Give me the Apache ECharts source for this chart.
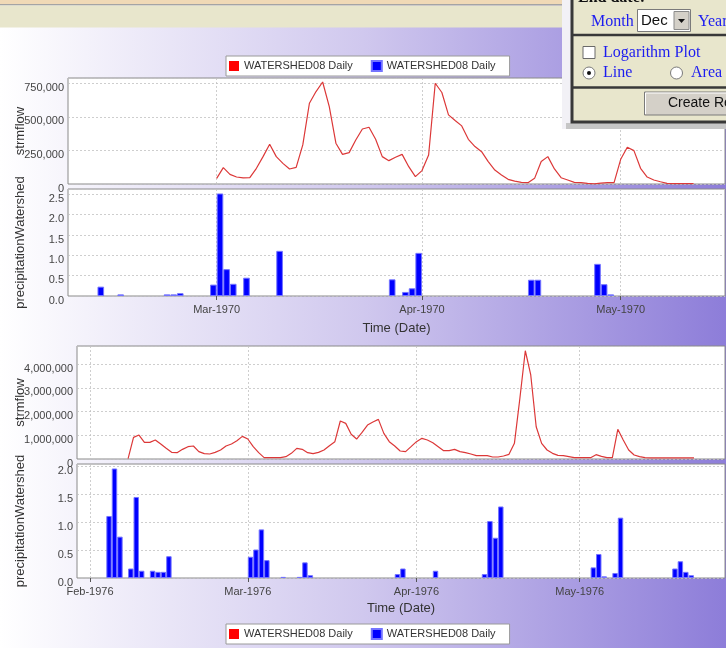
<!DOCTYPE html>
<html>
<head>
<meta charset="utf-8">
<script src="https://cdn.jsdelivr.net/npm/echarts@6/dist/echarts.min.js"></script>
<style>
  html, body { margin: 0; padding: 0; background: #fff; }
  #chart { width: 726px; height: 648px; }
</style>
</head>
<body>
<div id="chart"></div>
<script>
const DAY = 86400000;
const MONTHS = ['Jan', 'Feb', 'Mar', 'Apr', 'May', 'Jun', 'Jul', 'Aug', 'Sep', 'Oct', 'Nov', 'Dec'];

// Station label shown in both legends
const stationLabel = 'WATERSHED08 Daily';

// ---- Spring 1970 ----
// daily streamflow, starting 1 Mar 1970
const flow1970Start = '1970-03-01';
const flow1970 = [
  42000, 122000, 72000, 52000, 45000, 47000, 117000, 204000, 296000, 204000,
  154000, 112000, 124000, 291000, 602000, 689000, 760000, 577000, 304000, 221000,
  234000, 328000, 410000, 423000, 333000, 204000, 174000, 199000, 221000, 129000,
  55000, 100000, 216000, 751000, 682000, 515000, 473000, 433000, 333000, 279000,
  241000, 167000, 104000, 67000, 35000, 22000, 12000, 10000, 42000, 167000,
  204000, 112000, 47000, 30000, 12000, 10000, 5000, 1000, 7000, 10000,
  10000, 184000, 274000, 249000, 117000, 52000, 30000, 17000, 5000, 2500,
  2500, 2500, 2500
];
// wet days and their precipitation
const rain1970Dates = [
  '1970-02-11', '1970-02-14', '1970-02-21', '1970-02-22', '1970-02-23', '1970-02-28',
  '1970-03-01', '1970-03-02', '1970-03-03', '1970-03-05', '1970-03-10',
  '1970-03-27', '1970-03-29', '1970-03-30', '1970-03-31',
  '1970-04-17', '1970-04-18', '1970-04-27', '1970-04-28', '1970-04-29'
];
const rain1970 = [
  0.23, 0.04, 0.04, 0.04, 0.07, 0.28,
  2.52, 0.66, 0.30, 0.45, 1.11,
  0.41, 0.10, 0.19, 1.06,
  0.40, 0.40, 0.79, 0.29, 0.04
];
const ticks1970 = ['1970-03-01', '1970-04-01', '1970-05-01'];

// ---- Spring 1976 ----
const flow1976Start = '1976-02-08';
const flow1976 = [
  20000, 912000, 1010000, 702000, 702000, 800000, 632000, 449000, 281000, 267000,
  407000, 519000, 547000, 309000, 225000, 211000, 281000, 379000, 547000, 632000,
  772000, 954000, 842000, 519000, 267000, 56000, 56000, 56000, 56000, 98000,
  239000, 449000, 407000, 267000, 225000, 281000, 379000, 561000, 730000, 1600000,
  1500000, 1040000, 842000, 1120000, 1430000, 1560000, 1670000, 1080000, 730000, 547000,
  337000, 309000, 519000, 730000, 870000, 800000, 688000, 519000, 351000, 351000,
  407000, 309000, 267000, 211000, 140000, 140000, 140000, 84000, 84000, 126000,
  196000, 660000, 2550000, 4560000, 3540000, 1360000, 660000, 379000, 239000, 154000,
  140000, 98000, 56000, 56000, 56000, 56000, 182000, 112000, 56000, 56000,
  1250000, 800000, 379000, 168000, 98000, 56000, 50000, 50000, 45000, 45000,
  45000, 45000, 45000, 45000, 45000
];
const rain1976Dates = [
  '1976-02-04', '1976-02-05', '1976-02-06', '1976-02-08', '1976-02-09', '1976-02-10',
  '1976-02-12', '1976-02-13', '1976-02-14', '1976-02-15',
  '1976-03-01', '1976-03-02', '1976-03-03', '1976-03-04', '1976-03-07',
  '1976-03-10', '1976-03-11', '1976-03-12', '1976-03-28', '1976-03-29',
  '1976-04-04', '1976-04-13', '1976-04-14', '1976-04-15', '1976-04-16',
  '1976-05-03', '1976-05-04', '1976-05-05', '1976-05-07', '1976-05-08',
  '1976-05-18', '1976-05-19', '1976-05-20', '1976-05-21'
];
const rain1976 = [
  1.11, 1.96, 0.74, 0.17, 1.45, 0.13,
  0.13, 0.11, 0.11, 0.39,
  0.38, 0.51, 0.87, 0.32, 0.02,
  0.02, 0.28, 0.05, 0.07, 0.17,
  0.13, 0.07, 1.02, 0.72, 1.28,
  0.19, 0.43, 0.03, 0.09, 1.08,
  0.17, 0.30, 0.11, 0.05
];
const ticks1976 = ['1976-02-01', '1976-03-01', '1976-04-01', '1976-05-01'];

// ---- helpers ----
function parseDay(s, offset) {
  const p = s.split('-').map(Number);
  return new Date(p[0], p[1] - 1, p[2] + (offset || 0)).getTime();
}
function dailySeries(start, values) {
  return values.map((v, i) => [parseDay(start, i), v]);
}
function barSeries(dates, values) {
  // each bar covers its whole day
  return dates.map((d, i) => [parseDay(d) + DAY / 2, values[i]]);
}
function monthLabel(v) {
  const d = new Date(v);
  return MONTHS[d.getMonth()] + '-' + d.getFullYear();
}

const FONT = '"Liberation Sans", Arial, sans-serif';
const SERIF = '"Liberation Serif", "Times New Roman", serif';

// visible date ranges of the two charts
const range1970 = [parseDay('1970-03-01') - 22.45 * DAY, parseDay('1970-03-01') + 76.75 * DAY];
const range1976 = [parseDay('1976-02-01') - 2.39 * DAY, parseDay('1976-02-01') + 116.7 * DAY];

const grids = [
  { left: 68, top: 78, width: 657, height: 106 },
  { left: 68, top: 189, width: 657, height: 107 },
  { left: 77, top: 346, width: 648, height: 113 },
  { left: 77, top: 464, width: 648, height: 114 }
];

const gridLine = { color: '#c2c2c2', type: [2, 2], width: 0.8 };

// date axis: values are timestamps, ticks on the first of each month
function dateAxis(gridIndex, range, ticks, bottom, nameGap) {
  const tickValues = ticks.map(t => parseDay(t));
  return {
    type: 'value', gridIndex, min: range[0], max: range[1], scale: true,
    axisLine: { show: false },
    axisTick: { show: true, customValues: tickValues, length: bottom ? 4 : 0, lineStyle: { color: '#555' } },
    axisLabel: {
      show: bottom, customValues: tickValues, formatter: monthLabel, margin: 8,
      color: '#444', fontSize: 11, fontFamily: FONT
    },
    splitLine: { show: true, lineStyle: gridLine },
    name: bottom ? 'Time (Date)' : '',
    nameLocation: 'middle', nameGap,
    nameTextStyle: { fontSize: 13, color: '#333', fontFamily: FONT }
  };
}

// value labels sit a little below their grid lines
function valueAxis(gridIndex, max, interval, name, nameGap, fmt) {
  return {
    type: 'value', gridIndex, min: 0, max, interval,
    axisLine: { show: false },
    axisTick: { show: false },
    axisLabel: {
      formatter: fmt, showMaxLabel: false, color: '#444', fontSize: 11,
      fontFamily: FONT, margin: 4, verticalAlign: 'top', lineHeight: 9
    },
    splitLine: { show: true, lineStyle: gridLine },
    name, nameLocation: 'middle', nameGap, nameRotate: 90, nameMoveOverlap: false,
    nameTextStyle: { fontSize: 13, color: '#333', fontFamily: FONT }
  };
}

const flowFmt = v => Math.round(v).toLocaleString('en-US');
const rainFmt = v => v.toFixed(1);

function barWidthFor(grid, range) {
  return grid.width * DAY / (range[1] - range[0]);
}

const lineStyle = { color: '#dc3838', width: 1.2 };
const barStyle = { color: '#0000ff', borderColor: '#7474ff', borderWidth: 1 };

function legendFor(top, flowName, rainName) {
  return {
    left: 226, top, orient: 'horizontal',
    data: [
      { name: flowName, itemStyle: { color: '#ff0000' } },
      { name: rainName, itemStyle: { color: '#0000ff' } }
    ],
    formatter: () => stationLabel,
    icon: 'rect', itemWidth: 10, itemHeight: 10, itemGap: 18,
    padding: [4, 14, 4, 3],
    backgroundColor: '#ffffff', borderColor: '#9a9a9a', borderWidth: 1,
    selectedMode: false,
    textStyle: { fontSize: 11, color: '#333', fontFamily: FONT }
  };
}

// page chrome: header strip and the settings panel
const BLUE = '#1c1cf0';
const chrome = [
  { type: 'rect', z: 50, shape: { x: 0, y: 0, width: 562, height: 4 }, style: { fill: '#f0d9b6' } },
  { type: 'rect', z: 50, shape: { x: 0, y: 4, width: 562, height: 1.6 }, style: { fill: '#a4a4a4' } },
  { type: 'rect', z: 50, shape: { x: 0, y: 5.6, width: 562, height: 22 }, style: { fill: '#e8e6cc' } },
  { type: 'rect', z: 50, shape: { x: 562, y: 0, width: 10, height: 129 }, style: { fill: '#f2f1f6' } },
  { type: 'rect', z: 50, shape: { x: 566, y: 123, width: 170, height: 6 }, style: { fill: '#c6c6c6' } },
  { type: 'rect', z: 51, shape: { x: 572, y: -4, width: 170, height: 126 }, style: { fill: '#e8e6cc', stroke: '#383838', lineWidth: 3 } },
  { type: 'line', z: 52, shape: { x1: 572, y1: 35, x2: 730, y2: 35 }, style: { stroke: '#383838', lineWidth: 2.5 } },
  { type: 'line', z: 52, shape: { x1: 572, y1: 87.5, x2: 730, y2: 87.5 }, style: { stroke: '#383838', lineWidth: 2.5 } },
  { type: 'text', z: 53, style: { text: 'End date:', x: 578, y: -2, font: 'bold 16px ' + SERIF, fill: '#111', textVerticalAlign: 'middle', verticalAlign: 'middle' } },
  { type: 'text', z: 53, style: { text: 'Month', x: 591, y: 21.5, font: '16px ' + SERIF, fill: BLUE, textVerticalAlign: 'middle', verticalAlign: 'middle' } },
  { type: 'rect', z: 53, shape: { x: 637.5, y: 9.5, width: 53, height: 22 }, style: { fill: '#ffffff', stroke: '#7a7a7a', lineWidth: 1 } },
  { type: 'text', z: 54, style: { text: 'Dec', x: 641, y: 21, font: '15px ' + FONT, fill: '#111', textVerticalAlign: 'middle', verticalAlign: 'middle' } },
  { type: 'rect', z: 54, shape: { x: 674, y: 11.5, width: 15, height: 18 }, style: { fill: '#d4d0c8', stroke: '#8a8a8a', lineWidth: 1 } },
  { type: 'polygon', z: 55, shape: { points: [[678, 19], [685, 19], [681.5, 23]] }, style: { fill: '#111' } },
  { type: 'text', z: 53, style: { text: 'Year', x: 698, y: 21.5, font: '16px ' + SERIF, fill: BLUE, textVerticalAlign: 'middle', verticalAlign: 'middle' } },
  { type: 'rect', z: 53, shape: { x: 583, y: 46.5, width: 12, height: 12 }, style: { fill: '#ffffff', stroke: '#6a6a6a', lineWidth: 1 } },
  { type: 'text', z: 53, style: { text: 'Logarithm Plot', x: 603, y: 52.5, font: '16px ' + SERIF, fill: BLUE, textVerticalAlign: 'middle', verticalAlign: 'middle' } },
  { type: 'circle', z: 53, shape: { cx: 589, cy: 73, r: 6 }, style: { fill: '#ffffff', stroke: '#7a7a7a', lineWidth: 1 } },
  { type: 'circle', z: 54, shape: { cx: 589, cy: 73, r: 2 }, style: { fill: '#111' } },
  { type: 'text', z: 53, style: { text: 'Line', x: 603, y: 73, font: '16px ' + SERIF, fill: BLUE, textVerticalAlign: 'middle', verticalAlign: 'middle' } },
  { type: 'circle', z: 53, shape: { cx: 676.5, cy: 73, r: 6 }, style: { fill: '#ffffff', stroke: '#7a7a7a', lineWidth: 1 } },
  { type: 'text', z: 53, style: { text: 'Area', x: 691, y: 73, font: '16px ' + SERIF, fill: BLUE, textVerticalAlign: 'middle', verticalAlign: 'middle' } },
  { type: 'rect', z: 53, shape: { x: 644.5, y: 92, width: 100, height: 23 }, style: { fill: '#d4d0c8', stroke: '#7a7a7a', lineWidth: 1 } },
  { type: 'polyline', z: 54, shape: { points: [[645.5, 114], [645.5, 93], [744, 93]] }, style: { stroke: '#ffffff', lineWidth: 1 } },
  { type: 'text', z: 54, style: { text: 'Create Report', x: 668, y: 103.5, font: '14px ' + FONT, fill: '#111', textVerticalAlign: 'middle', verticalAlign: 'middle' } }
];

const chart = echarts.init(document.getElementById('chart'), null, { renderer: 'canvas' });

const option = {
  animation: false,
  backgroundColor: new echarts.graphic.LinearGradient(0, 0, 1, 0, [
    { offset: 0, color: '#ffffff' },
    { offset: 0.5, color: '#d0c8ee' },
    { offset: 1, color: '#8d7dd9' }
  ]),
  textStyle: { fontFamily: FONT },
  grid: grids.map(g => Object.assign({
    show: true, backgroundColor: '#ffffff', borderColor: '#8a8a8a', borderWidth: 1,
    outerBoundsMode: 'none', containLabel: false
  }, g)),
  legend: [
    legendFor(56, 'strmflow 1970', 'precipitation 1970'),
    legendFor(624, 'strmflow 1976', 'precipitation 1976')
  ],
  xAxis: [
    dateAxis(0, range1970, ticks1970, false, 0),
    dateAxis(1, range1970, ticks1970, true, 25.5),
    dateAxis(2, range1976, ticks1976, false, 0),
    dateAxis(3, range1976, ticks1976, true, 23.5)
  ],
  yAxis: [
    valueAxis(0, 790000, 250000, 'strmflow', 41.5, flowFmt),
    valueAxis(1, 2.63, 0.5, 'precipitationWatershed', 41.5, rainFmt),
    valueAxis(2, 4760000, 1000000, 'strmflow', 50.5, flowFmt),
    valueAxis(3, 2.04, 0.5, 'precipitationWatershed', 50.5, rainFmt)
  ],
  series: [
    {
      name: 'strmflow 1970', type: 'line', xAxisIndex: 0, yAxisIndex: 0,
      data: dailySeries(flow1970Start, flow1970), showSymbol: false, symbol: 'none',
      lineStyle, itemStyle: { color: lineStyle.color }
    },
    {
      name: 'precipitation 1970', type: 'bar', xAxisIndex: 1, yAxisIndex: 1,
      data: barSeries(rain1970Dates, rain1970),
      barWidth: barWidthFor(grids[1], range1970), itemStyle: barStyle
    },
    {
      name: 'strmflow 1976', type: 'line', xAxisIndex: 2, yAxisIndex: 2,
      data: dailySeries(flow1976Start, flow1976), showSymbol: false, symbol: 'none',
      lineStyle, itemStyle: { color: lineStyle.color }
    },
    {
      name: 'precipitation 1976', type: 'bar', xAxisIndex: 3, yAxisIndex: 3,
      data: barSeries(rain1976Dates, rain1976),
      barWidth: barWidthFor(grids[3], range1976), itemStyle: barStyle
    }
  ],
  graphic: { elements: chrome }
};

chart.setOption(option);
</script>
</body>
</html>
